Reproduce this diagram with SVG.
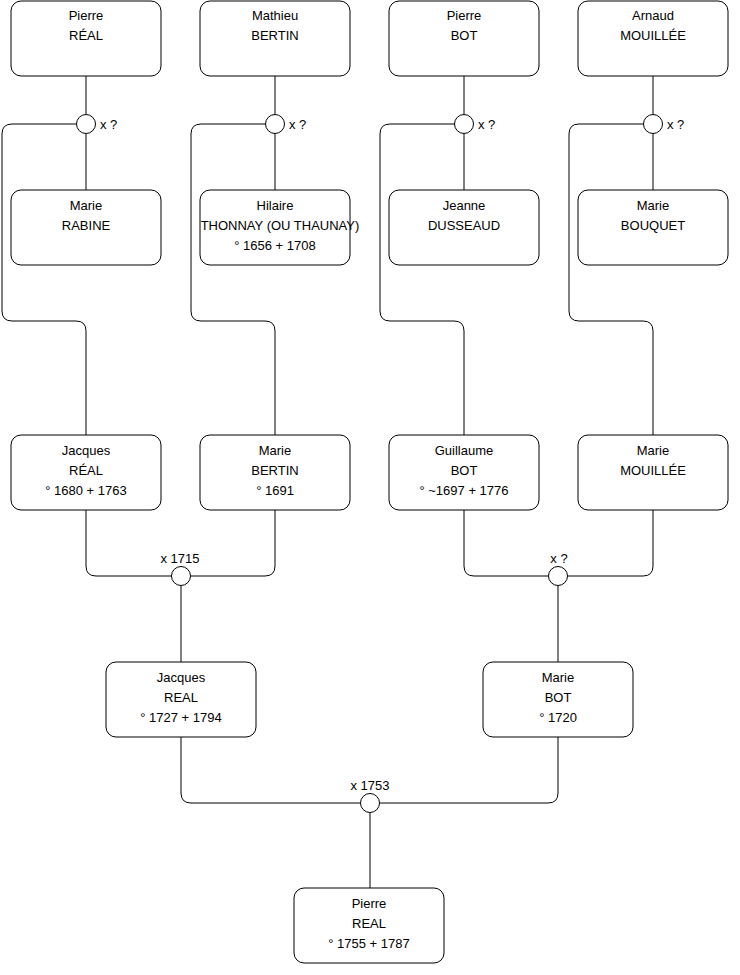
<svg xmlns="http://www.w3.org/2000/svg" width="740" height="975" viewBox="0 0 740 975">
<style>
.n{fill:#fff;stroke:#000;stroke-width:1}
.c{fill:none;stroke:#000;stroke-width:1}
.u{fill:#fff;stroke:#000;stroke-width:1}
text{font-family:"Liberation Sans",Arial,sans-serif;font-size:13px;fill:#000}
.m{text-anchor:middle}
</style>
<rect width="740" height="975" fill="#fff"/>
<g id="connectors">
<path class="c" d="M86 76V114M86 134V190"/>
<path class="c" d="M275 76V114M275 134V190"/>
<path class="c" d="M464 76V114M464 134V190"/>
<path class="c" d="M653 76V114M653 134V190"/>
<path class="c" d="M76.5 124H12Q2 124 2 134V311Q2 321 12 321H76Q86 321 86 331V435"/>
<path class="c" d="M265.5 124H201Q191 124 191 134V311Q191 321 201 321H265Q275 321 275 331V435"/>
<path class="c" d="M454.5 124H390Q380 124 380 134V311Q380 321 390 321H454Q464 321 464 331V435"/>
<path class="c" d="M643.5 124H579Q569 124 569 134V311Q569 321 579 321H643Q653 321 653 331V435"/>
<path class="c" d="M86 510V566Q86 576 96 576H171.5M190.5 576H265Q275 576 275 566V510"/>
<path class="c" d="M464 510V566Q464 576 474 576H548.5M567.5 576H643Q653 576 653 566V510"/>
<path class="c" d="M181 585.5V662M558 585.5V662"/>
<path class="c" d="M181 737V793Q181 803 191 803H360.5M379.5 803H548Q558 803 558 793V737"/>
<path class="c" d="M370 812.5V888"/>
</g>
<g id="unions">
<circle class="u" cx="86" cy="124" r="9.5"/><text x="100" y="129">x ?</text>
<circle class="u" cx="275" cy="124" r="9.5"/><text x="289" y="129">x ?</text>
<circle class="u" cx="464" cy="124" r="9.5"/><text x="478" y="129">x ?</text>
<circle class="u" cx="653" cy="124" r="9.5"/><text x="667" y="129">x ?</text>
<circle class="u" cx="181" cy="576" r="9.5"/><text class="m" x="180" y="563">x 1715</text>
<circle class="u" cx="558" cy="576" r="9.5"/><text class="m" x="559" y="563">x ?</text>
<circle class="u" cx="370" cy="803" r="9.5"/><text class="m" x="370" y="790">x 1753</text>
</g>
<g id="pierre-real-1">
<rect class="n" x="11" y="1" width="150" height="75" rx="10"/>
<text class="m" x="86" y="20">Pierre</text><text class="m" x="86" y="40">RÉAL</text>
</g>
<g id="mathieu-bertin">
<rect class="n" x="200" y="1" width="150" height="75" rx="10"/>
<text class="m" x="275" y="20">Mathieu</text><text class="m" x="275" y="40">BERTIN</text>
</g>
<g id="pierre-bot">
<rect class="n" x="389" y="1" width="150" height="75" rx="10"/>
<text class="m" x="464" y="20">Pierre</text><text class="m" x="464" y="40">BOT</text>
</g>
<g id="arnaud-mouillee">
<rect class="n" x="578" y="1" width="150" height="75" rx="10"/>
<text class="m" x="653" y="20">Arnaud</text><text class="m" x="653" y="40">MOUILLÉE</text>
</g>
<g id="marie-rabine">
<rect class="n" x="11" y="190" width="150" height="75" rx="10"/>
<text class="m" x="86" y="210">Marie</text><text class="m" x="86" y="230">RABINE</text>
</g>
<g id="hilaire-thonnay">
<rect class="n" x="200" y="190" width="150" height="75" rx="10"/>
<text class="m" x="275" y="210">Hilaire</text><text class="m" x="280" y="230">THONNAY (OU THAUNAY)</text><text class="m" x="275" y="250">° 1656 + 1708</text>
</g>
<g id="jeanne-dusseaud">
<rect class="n" x="389" y="190" width="150" height="75" rx="10"/>
<text class="m" x="464" y="210">Jeanne</text><text class="m" x="464" y="230">DUSSEAUD</text>
</g>
<g id="marie-bouquet">
<rect class="n" x="578" y="190" width="150" height="75" rx="10"/>
<text class="m" x="653" y="210">Marie</text><text class="m" x="653" y="230">BOUQUET</text>
</g>
<g id="jacques-real-1">
<rect class="n" x="11" y="435" width="150" height="75" rx="10"/>
<text class="m" x="86" y="455">Jacques</text><text class="m" x="86" y="475">RÉAL</text><text class="m" x="86" y="495">° 1680 + 1763</text>
</g>
<g id="marie-bertin">
<rect class="n" x="200" y="435" width="150" height="75" rx="10"/>
<text class="m" x="275" y="455">Marie</text><text class="m" x="275" y="475">BERTIN</text><text class="m" x="275" y="495">° 1691</text>
</g>
<g id="guillaume-bot">
<rect class="n" x="389" y="435" width="150" height="75" rx="10"/>
<text class="m" x="464" y="455">Guillaume</text><text class="m" x="464" y="475">BOT</text><text class="m" x="464" y="495">° ~1697 + 1776</text>
</g>
<g id="marie-mouillee">
<rect class="n" x="578" y="435" width="150" height="75" rx="10"/>
<text class="m" x="653" y="455">Marie</text><text class="m" x="653" y="475">MOUILLÉE</text>
</g>
<g id="jacques-real-2">
<rect class="n" x="106" y="662" width="150" height="75" rx="10"/>
<text class="m" x="181" y="682">Jacques</text><text class="m" x="181" y="702">REAL</text><text class="m" x="181" y="722">° 1727 + 1794</text>
</g>
<g id="marie-bot">
<rect class="n" x="483" y="662" width="150" height="75" rx="10"/>
<text class="m" x="558" y="682">Marie</text><text class="m" x="558" y="702">BOT</text><text class="m" x="558" y="722">° 1720</text>
</g>
<g id="pierre-real-2">
<rect class="n" x="294" y="888" width="150" height="75" rx="10"/>
<text class="m" x="369" y="908">Pierre</text><text class="m" x="369" y="928">REAL</text><text class="m" x="369" y="948">° 1755 + 1787</text>
</g>
</svg>
